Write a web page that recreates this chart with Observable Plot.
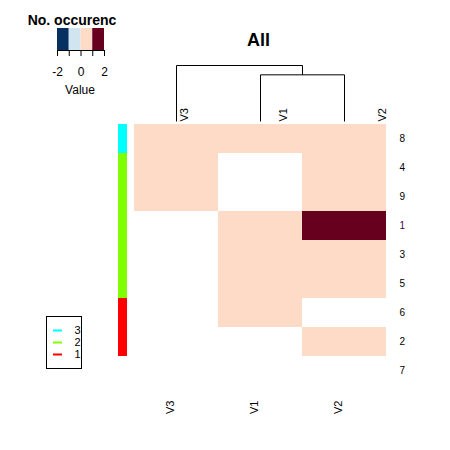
<!DOCTYPE html>
<html><head><meta charset="utf-8">
<script src="https://cdn.jsdelivr.net/npm/d3@7"></script>
<script src="https://cdn.jsdelivr.net/npm/@observablehq/plot@0.6"></script>
<style>
body{margin:0;background:#fff;}
#chart{position:relative;width:450px;height:450px;background:#fff;font-family:"Liberation Sans",Arial,sans-serif;}
#chart svg{position:absolute;left:0;top:0;}
</style></head><body><div id="chart"></div>
<script>
// ---- data ----
const columns = ["V3", "V1", "V2"];
const rows = ["8", "4", "9", "1", "3", "5", "6", "2", "7"];
// values per row (null = NA / missing)
const valuesV3 = [1, 1, 1, null, null, null, null, null, null];
const valuesV1 = [1, null, null, 1, 1, 1, 1, null, null];
const valuesV2 = [1, 1, 1, 2, 1, 1, null, 1, null];
const rowClusters = ["3", "2", "2", "2", "2", "2", "1", "1", null];
const rowLabelColors = ["black", "black", "black", "#4b0055", "black", "black", "black", "black", "black"];
const clusterNames = ["3", "2", "1"];
const clusterColors = ["#00FFFF", "#7FFF00", "#FF0000"];
const keyBreaks = [-2, -1, 0, 1, 2];
const keyColors = ["#053061", "#D1E5F0", "#FDDBC7", "#67001F"];
const keyTicks = [-2, -1, 0, 1, 2];
const keyTickLabels = ["-2", "", "0", "", "2"];
const dendroMerges = [
  {left: "V1", right: "V2", height: 2.5},
  {left: "V3", right: 0, height: 3}
];
const title = "All";
const keyTitle = "No. occurenc";
const keyLabel = "Value";

// ---- derived tables ----
const colValues = {V3: valuesV3, V1: valuesV1, V2: valuesV2};
const cells = [];
rows.forEach((r, i) => columns.forEach(c => {
  const v = colValues[c][i];
  if (v != null) cells.push({row: r, col: c, value: v});
}));
function binColor(v) {
  let k = d3.bisectLeft(keyBreaks, v) - 1;
  k = Math.max(0, Math.min(keyColors.length - 1, k));
  return keyColors[k];
}
const clusterColor = Object.fromEntries(clusterNames.map((n, i) => [n, clusterColors[i]]));
const sideCells = rows.map((r, i) => ({row: r, cluster: rowClusters[i]})).filter(d => d.cluster != null);
const rowLabelData = rows.map((r, i) => ({row: r, color: rowLabelColors[i]}));
const keyBins = keyColors.map((c, i) => ({lo: keyBreaks[i], hi: keyBreaks[i + 1], color: c}));
const legendData = clusterNames.map((n, i) => ({name: n, color: clusterColors[i]}));

// dendrogram segments
const nodes = [];
function nodeOf(ref) {
  if (typeof ref === "number") return nodes[ref];
  return {x: columns.indexOf(ref) + 1, h: 0};
}
const dendroSegs = [];
dendroMerges.forEach(m => {
  const a = nodeOf(m.left), b = nodeOf(m.right);
  dendroSegs.push({x1: a.x, y1: a.h, x2: a.x, y2: m.height});
  dendroSegs.push({x1: b.x, y1: b.h, x2: b.x, y2: m.height});
  dendroSegs.push({x1: a.x, y1: m.height, x2: b.x, y2: m.height});
  nodes.push({x: (a.x + b.x) / 2, h: m.height});
});

const font = "Liberation Sans, Arial, sans-serif";
const overlay = {background: "transparent", overflow: "visible", fontFamily: font};
const chart = document.getElementById("chart");

// main heatmap
chart.append(Plot.plot({
  width: 450, height: 450,
  marginLeft: 134, marginRight: 64, marginTop: 122, marginBottom: 64,
  style: {background: "white", overflow: "visible", fontFamily: font},
  x: {type: "band", domain: columns, padding: 0, axis: null},
  y: {type: "band", domain: rows, padding: 0, axis: null},
  color: {type: "identity"},
  marks: [
    Plot.cell(cells, {x: "col", y: "row", fill: d => binColor(d.value)}),
    Plot.text(rowLabelData, {y: "row", text: "row", frameAnchor: "right", dx: 13, textAnchor: "start", fill: "color", fontSize: 10}),
    Plot.text(columns, {x: d => d, text: d => d, frameAnchor: "bottom", rotate: -90, textAnchor: "end", dx: -3, dy: 14, fontSize: 11}),
    Plot.text([title], {frameAnchor: "top", dx: -2, dy: -89, fontWeight: "bold", fontSize: 18})
  ]
}));

// dendrogram
chart.append(Plot.plot({
  width: 450, height: 450,
  marginLeft: 134, marginRight: 64, marginTop: 65, marginBottom: 329,
  style: overlay,
  x: {domain: [0.5, columns.length + 0.5], axis: null},
  y: {domain: [0, 3], axis: null},
  marks: [
    Plot.link(dendroSegs, {x1: "x1", y1: "y1", x2: "x2", y2: "y2", stroke: "black", strokeWidth: 1})
  ]
}));

// top column labels
chart.append(Plot.plot({
  width: 450, height: 450,
  marginLeft: 138, marginRight: 15, marginTop: 60, marginBottom: 329,
  style: overlay,
  x: {type: "band", domain: columns, padding: 0, axis: null},
  marks: [
    Plot.text(columns, {x: d => d, text: d => d, frameAnchor: "bottom", rotate: -90, textAnchor: "start", fontSize: 11})
  ]
}));

// row side colours
chart.append(Plot.plot({
  width: 450, height: 450,
  marginLeft: 118, marginRight: 323, marginTop: 122, marginBottom: 64,
  style: overlay,
  x: {type: "band", domain: ["side"], padding: 0, axis: null},
  y: {type: "band", domain: rows, padding: 0, axis: null},
  color: {type: "identity"},
  marks: [
    Plot.cell(sideCells, {x: () => "side", y: "row", fill: d => clusterColor[d.cluster]})
  ]
}));

// colour key
chart.append(Plot.plot({
  width: 450, height: 450,
  marginLeft: 57, marginRight: 346, marginTop: 28, marginBottom: 400,
  style: overlay,
  x: {domain: [keyBreaks[0], keyBreaks[keyBreaks.length - 1]], axis: null},
  color: {type: "identity"},
  marks: [
    Plot.rect(keyBins, {x1: "lo", x2: "hi", fill: "color"}),
    Plot.frame({anchor: "bottom", stroke: "black"}),
    Plot.axisX({ticks: keyTicks, tickFormat: (d) => keyTickLabels[keyTicks.indexOf(d)], tickSize: 6, tickPadding: 11, fontSize: 12, stroke: "black", color: "black"}),
    Plot.text([keyLabel], {frameAnchor: "bottom", dx: -1, dy: 43, fontSize: 12}),
    Plot.text([keyTitle], {frameAnchor: "top", dx: -9, dy: -13, fontWeight: "bold", fontSize: 14})
  ]
}));

// cluster legend
chart.append(Plot.plot({
  width: 450, height: 450,
  marginLeft: 53, marginRight: 388, marginTop: 316, marginBottom: 82,
  style: overlay,
  y: {type: "point", domain: clusterNames, range: [329, 354], padding: 0, axis: null},
  color: {type: "identity"},
  marks: [
    Plot.frame({stroke: "black", insetLeft: -7, insetRight: -19}),
    Plot.tickY(legendData, {y: "name", stroke: "color", strokeWidth: 2}),
    Plot.text(legendData, {y: "name", text: "name", frameAnchor: "right", dx: 12, textAnchor: "start", fontSize: 11})
  ]
}));
</script></body></html>
